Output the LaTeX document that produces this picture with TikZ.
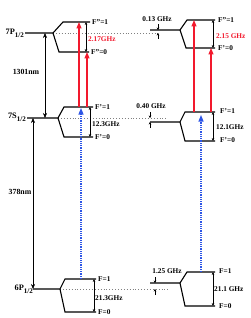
\documentclass[tikz,border=0pt]{standalone}
\usepackage{fontspec}
\setmainfont{Liberation Serif}
\usetikzlibrary{arrows.meta}
\definecolor{lred}{RGB}{242,25,45}
\definecolor{dblue}{RGB}{45,85,230}
\newcommand{\lvlname}[2]{#1\raisebox{-3pt}{\fontsize{7}{8}\selectfont #2}}
\begin{document}
\begin{tikzpicture}[x=1pt,y=-1pt,
  lvl/.style={line width=1.1pt, black},
  dotlvl/.style={gray, dotted, line width=0.9pt},
  sepa/.style={line width=0.5pt, {Stealth[length=3pt,width=2.6pt]}-{Stealth[length=3pt,width=2.6pt]}},
  trans/.style={line width=0.5pt, {Stealth[length=5pt,width=4pt]}-{Stealth[length=5pt,width=4pt]}},
  redarr/.style={lred, line width=1.25pt, -{Triangle[length=6.5pt,width=5pt]}},
  bluearr/.style={dblue, dash pattern=on 1pt off 0.8pt, line width=1.1pt, -{Triangle[length=6.5pt,width=5pt]}},
  tickarr/.style={line width=0.4pt, -{Stealth[length=2.5pt,width=2.6pt]}},
  lab/.style={font=\fontsize{7.3}{8}\selectfont\bfseries, inner sep=0pt, anchor=west},
  clab/.style={font=\fontsize{7.3}{8}\selectfont\bfseries, inner sep=0pt},
  nm/.style={font=\fontsize{7.8}{9}\selectfont\bfseries, inner sep=0pt},
  big/.style={font=\fontsize{8.3}{9}\selectfont\bfseries, inner sep=0pt, anchor=east}]
\useasboundingbox (0,0) rectangle (251,318);

% ---------- coordinates: left ----------
\coordinate (a7Pl) at (25,33);  \coordinate (a7Pb) at (53,33);
\coordinate (a7Pu) at (63,22);  \coordinate (a7Pue) at (90,22);
\coordinate (a7Pd) at (59,52);  \coordinate (a7Pde) at (89,52);
\coordinate (a7Sl) at (27,118); \coordinate (a7Sb) at (58,118);
\coordinate (a7Su) at (64,107); \coordinate (a7Sue) at (93,107);
\coordinate (a7Sd) at (64,137); \coordinate (a7Sde) at (93,137);
\coordinate (a6Pl) at (33,289); \coordinate (a6Pb) at (60,289);
\coordinate (a6Pu) at (65,279); \coordinate (a6Pue) at (96,279);
\coordinate (a6Pd) at (65,312); \coordinate (a6Pde) at (96,312);
% ---------- coordinates: right ----------
\coordinate (b7Pl) at (150,30); \coordinate (b7Pb) at (180,30);
\coordinate (b7Pu) at (187,20); \coordinate (b7Pue) at (215,20);
\coordinate (b7Pd) at (186,48); \coordinate (b7Pde) at (215,48);
\coordinate (b7Sl) at (150,122); \coordinate (b7Sb) at (180,122);
\coordinate (b7Su) at (185,112); \coordinate (b7Sue) at (215,112);
\coordinate (b7Sd) at (185,141); \coordinate (b7Sde) at (215,141);
\coordinate (b6Pl) at (150,283); \coordinate (b6Pb) at (180,283);
\coordinate (b6Pu) at (187,272); \coordinate (b6Pue) at (215,272);
\coordinate (b6Pd) at (185,306); \coordinate (b6Pde) at (215,306);
% dotted ends
\coordinate (d7P) at (160,33); \coordinate (d7S) at (168,118); \coordinate (d6P) at (168,289);

% ---------- dotted reference lines ----------
\draw[dotlvl] (a7Pb) -- (d7P);
\draw[dotlvl] (a7Sb) -- (d7S);
\draw[dotlvl] (a6Pb) -- (d6P);

% ---------- level structures ----------
\draw[lvl] (a7Pl) -- (a7Pb) -- (a7Pu) -- (a7Pue);
\draw[lvl] (a7Pb) -- (a7Pd) -- (a7Pde);
\draw[lvl] (a7Sl) -- (a7Sb) -- (a7Su) -- (a7Sue);
\draw[lvl] (a7Sb) -- (a7Sd) -- (a7Sde);
\draw[lvl] (a6Pl) -- (a6Pb) -- (a6Pu) -- (a6Pue);
\draw[lvl] (a6Pb) -- (a6Pd) -- (a6Pde);
\draw[lvl] (b7Pl) -- (b7Pb) -- (b7Pu) -- (b7Pue);
\draw[lvl] (b7Pb) -- (b7Pd) -- (b7Pde);
\draw[lvl] (b7Sl) -- (b7Sb) -- (b7Su) -- (b7Sue);
\draw[lvl] (b7Sb) -- (b7Sd) -- (b7Sde);
\draw[lvl] (b6Pl) -- (b6Pb) -- (b6Pu) -- (b6Pue);
\draw[lvl] (b6Pb) -- (b6Pd) -- (b6Pde);

% ---------- level names ----------
\node[big] (n7P) at (24,33) {\lvlname{7P}{1/2}};
\node[big] (n7S) at (26,117) {\lvlname{7S}{1/2}};
\node[big] (n6P) at (33,289) {\lvlname{6P}{1/2}};

% ---------- transition arrows (wavelengths) ----------
\coordinate (t1a) at (45,33); \coordinate (t1b) at (45,118);
\coordinate (t2a) at (33,118); \coordinate (t2b) at (33,289);
\draw[trans] (t1a) -- (t1b);
\draw[trans] (t2a) -- (t2b);
\node[nm] (l1301) at (26,72) {1301nm};
\node[nm] (l378) at (20,192) {378nm};

% ---------- hyperfine splittings ----------
\coordinate (s1a) at (86,22);  \coordinate (s1b) at (86,52);
\coordinate (s2a) at (90,107); \coordinate (s2b) at (90,137);
\coordinate (s3a) at (94,279); \coordinate (s3b) at (94,312);
\coordinate (s4a) at (213,20); \coordinate (s4b) at (213,48);
\coordinate (s5a) at (213,112); \coordinate (s5b) at (213,141);
\coordinate (s6a) at (213,272); \coordinate (s6b) at (213,306);
\draw[sepa] (s1a) -- (s1b);
\draw[sepa] (s2a) -- (s2b);
\draw[sepa] (s3a) -- (s3b);
\draw[sepa] (s4a) -- (s4b);
\draw[sepa] (s5a) -- (s5b);
\draw[sepa] (s6a) -- (s6b);

% ---------- small shift arrows ----------
\coordinate (k1a) at (158,24); \coordinate (k1b) at (158,30);
\coordinate (k1c) at (158,39); \coordinate (k1d) at (158,33);
\coordinate (k2a) at (150,112); \coordinate (k2b) at (150,118);
\coordinate (k2c) at (150,128); \coordinate (k2d) at (150,122);
\coordinate (k3a) at (155,277); \coordinate (k3b) at (155,283);
\coordinate (k3c) at (155,295); \coordinate (k3d) at (155,289);
\draw[tickarr] (k1a) -- (k1b); \draw[tickarr] (k1c) -- (k1d);
\draw[tickarr] (k2a) -- (k2b); \draw[tickarr] (k2c) -- (k2d);
\draw[tickarr] (k3a) -- (k3b); \draw[tickarr] (k3c) -- (k3d);
\node[clab] (g013) at (157,19) {0.13 GHz};
\node[clab] (g040) at (151,106) {0.40 GHz};
\node[clab] (g125) at (167,271) {1.25 GHz};

% ---------- laser arrows ----------
\coordinate (r1a) at (79,107); \coordinate (r1b) at (79,22);
\coordinate (r2a) at (87,107); \coordinate (r2b) at (87,52);
\coordinate (r3a) at (194,112); \coordinate (r3b) at (194,20);
\coordinate (r4a) at (211,112); \coordinate (r4b) at (211,48);
\draw[redarr] (r1a) -- (r1b);
\draw[redarr] (r2a) -- (r2b);
\draw[redarr] (r3a) -- (r3b);
\draw[redarr] (r4a) -- (r4b);
\coordinate (u1a) at (81,279); \coordinate (u1b) at (81,108);
\coordinate (u2a) at (201,272); \coordinate (u2b) at (201,115);
\draw[bluearr] (u1a) -- (u1b);
\draw[bluearr] (u2a) -- (u2b);

% ---------- labels left ----------
\node[lab] (fL7P1) at (92,22) {F''=1};
\node[lab] (fL7P0) at (91,52) {F''=0};
\node[lab, text=lred] (gL7P) at (88,39) {2.17GHz};
\node[lab] (fL7S1) at (95,107) {F'=1};
\node[lab] (fL7S0) at (95,137) {F'=0};
\node[lab] (gL7S) at (92,124) {12.3GHz};
\node[lab] (fL6P1) at (98,279) {F=1};
\node[lab] (fL6P0) at (98,312) {F=0};
\node[lab] (gL6P) at (95,298) {21.3GHz};
% ---------- labels right ----------
\node[lab] (fR7P1) at (218,20) {F''=1};
\node[lab] (fR7P0) at (218,48) {F'=0};
\node[lab, text=lred] (gR7P) at (216,36) {2.15 GHz};
\node[lab] (fR7S1) at (220,111) {F'=1};
\node[lab] (fR7S0) at (220,140) {F'=0};
\node[lab] (gR7S) at (216,127) {12.1GHz};
\node[lab] (fR6P1) at (219,271) {F=1};
\node[lab] (fR6P0) at (219,306) {F=0};
\node[lab] (gR6P) at (214,289) {21.1 GHz};
\end{tikzpicture}
\end{document}
